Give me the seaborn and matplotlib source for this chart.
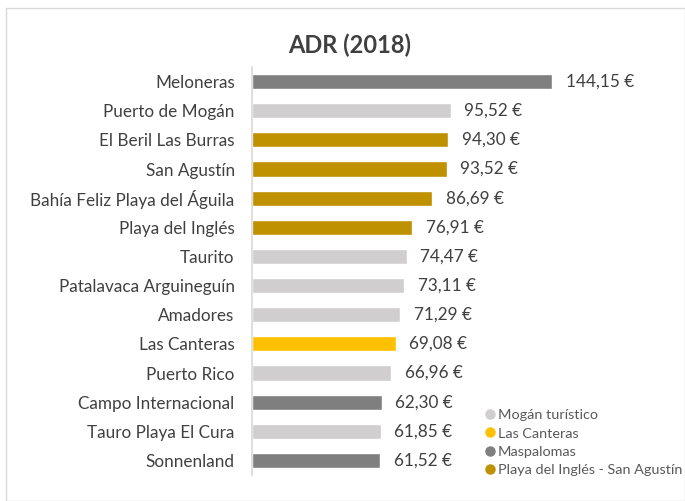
import matplotlib
matplotlib.use("Agg")
import matplotlib.pyplot as plt
import seaborn as sns
import pandas as pd
from matplotlib.lines import Line2D
from matplotlib.patches import Rectangle

zones = ["Meloneras", "Puerto de Mogán", "El Beril Las Burras", "San Agustín",
         "Bahía Feliz Playa del Águila", "Playa del Inglés", "Taurito",
         "Patalavaca Arguineguín", "Amadores", "Las Canteras", "Puerto Rico",
         "Campo Internacional", "Tauro Playa El Cura", "Sonnenland"]
adr = [144.15, 95.52, 94.30, 93.52, 86.69, 76.91, 74.47, 73.11, 71.29, 69.08,
       66.96, 62.30, 61.85, 61.52]
groups = ["Maspalomas", "Mogán turístico", "Playa del Inglés - San Agustín",
          "Playa del Inglés - San Agustín", "Playa del Inglés - San Agustín",
          "Playa del Inglés - San Agustín", "Mogán turístico", "Mogán turístico",
          "Mogán turístico", "Las Canteras", "Mogán turístico", "Maspalomas",
          "Mogán turístico", "Maspalomas"]
legend_order = ["Mogán turístico", "Las Canteras", "Maspalomas",
                "Playa del Inglés - San Agustín"]
palette = {"Mogán turístico": "#d0cece", "Las Canteras": "#ffc000",
           "Maspalomas": "#7f7f7f", "Playa del Inglés - San Agustín": "#bf9000"}

df = pd.DataFrame({"zone": zones, "adr": adr, "group": groups})

sns.set_style("white")
plt.rcParams["font.family"] = ["Lato", "DejaVu Sans"]

fig = plt.figure(figsize=(6.85, 5.01), dpi=100)
W, H = 685, 501
ax = fig.add_axes([252 / W, 1 - 475 / H, 430 / W, 408 / H])

sns.barplot(data=df, y="zone", x="adr", hue="group", palette=palette,
            order=zones, hue_order=legend_order, dodge=False, width=0.52,
            saturation=1, orient="h", ax=ax, legend=False)

ax.set_xlim(0, 430 / 2.081)
ax.set_ylim(13.5, -0.5)
ax.set_xlabel("")
ax.set_ylabel("")
ax.set_xticks([])
for s in ["top", "right", "bottom"]:
    ax.spines[s].set_visible(False)
ax.spines["left"].set_color("#d9d9d9")
ax.spines["left"].set_linewidth(1.2)
ax.tick_params(axis="y", length=0, pad=12.5, labelsize=12.3, labelcolor="#404040")

for i, v in enumerate(adr):
    ax.text(v + 6.5, i, f"{v:.2f} €".replace(".", ","), va="center", ha="left",
            fontsize=12.3, color="#404040")

fig.text(350 / W, 1 - 45 / H, "ADR (2018)", ha="center", va="center",
         fontsize=17, fontweight="bold", color="#404040")

handles = [Line2D([0], [0], marker="o", linestyle="", markersize=6.5,
                  markerfacecolor=palette[g], markeredgecolor=palette[g])
           for g in legend_order]
fig.legend(handles, legend_order, loc="upper left",
           bbox_to_anchor=(476 / W, 1 - 402 / H), frameon=False, fontsize=10.4,
           labelcolor="#595959", handletextpad=0.0, labelspacing=0.42,
           borderpad=0, handlelength=1.0)

fig.patches.append(Rectangle((6 / W, 0), 1 - 6 / W, 1 - 8 / H,
                             transform=fig.transFigure, fill=False,
                             edgecolor="#d9d9d9", linewidth=1))

fig.savefig("out.png", dpi=100)
